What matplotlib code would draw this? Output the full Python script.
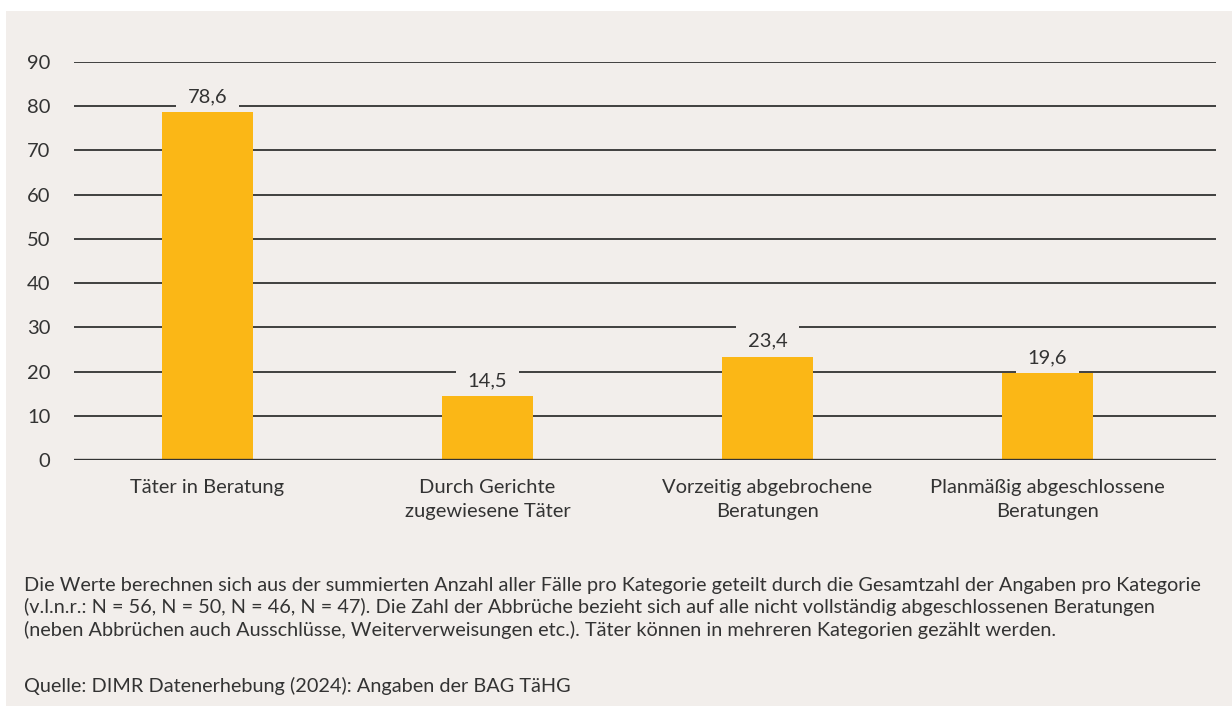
import matplotlib
matplotlib.use('Agg')
import matplotlib.pyplot as plt
from matplotlib.patches import Rectangle

categories = ['Täter in Beratung', 'Durch Gerichte\nzugewiesene Täter',
              'Vorzeitig abgebrochene\nBeratungen', 'Planmäßig abgeschlossene\nBeratungen']
values = [78.6, 14.5, 23.4, 19.6]
value_labels = ['78,6', '14,5', '23,4', '19,6']
yticks = [0, 10, 20, 30, 40, 50, 60, 70, 80, 90]

note = ('Die Werte berechnen sich aus der summierten Anzahl aller Fälle pro Kategorie geteilt durch die Gesamtzahl der Angaben pro Kategorie\n'
        '(v.l.n.r.: N = 56, N = 50, N = 46, N = 47). Die Zahl der Abbrüche bezieht sich auf alle nicht vollständig abgeschlossenen Beratungen\n'
        '(neben Abbrüchen auch Ausschlüsse, Weiterverweisungen etc.). Täter können in mehreren Kategorien gezählt werden.')
source = 'Quelle: DIMR Datenerhebung (2024): Angaben der BAG TäHG'

bg = '#f2eeeb'
bar_color = '#fbb716'
txt = '#333333'

plt.rcParams['font.family'] = ['Lato', 'DejaVu Sans']

W, H = 1232, 706
fig = plt.figure(figsize=(W / 100, H / 100), dpi=100, facecolor='white')
fig.patches.append(Rectangle((6 / W, 0), 1 - 6 / W, (H - 11) / H,
                             transform=fig.transFigure, facecolor=bg,
                             edgecolor='none', zorder=-1))

ax = fig.add_axes([74 / W, (H - 460) / H, (1216 - 74) / W, (460 - 62) / H])
ax.set_facecolor('none')

x = list(range(len(categories)))
ax.bar(x, values, width=0.325, color=bar_color, zorder=3)

for y in yticks[1:]:
    ax.axhline(y, color='#222222', lw=1.2, zorder=1)
ax.axhline(0, color='#333333', lw=2.4, zorder=4)

# value labels sit on a bg-coloured box so the gridline is interrupted
for xi, v, lab in zip(x, values, value_labels):
    ax.annotate(lab, (xi, v), xytext=(0, 11), textcoords='offset points',
                ha='center', va='center', fontsize=14.5, color=txt, zorder=2,
                bbox=dict(boxstyle='square', pad=0.6, facecolor=bg, edgecolor='none'))

ax.set_xlim(-0.477, 3.602)
ax.set_ylim(0, 90)
ax.set_yticks(yticks)
ax.set_xticks(x)
ax.set_xticklabels(categories, fontsize=14.5, color=txt, linespacing=1.45)
ax.tick_params(axis='y', length=0, pad=17, labelsize=14.5, labelcolor=txt)
ax.tick_params(axis='x', length=0, pad=14)
for s in ax.spines.values():
    s.set_visible(False)

fig.text(24 / W, 1 - 608 / H, note, fontsize=14.3, color=txt, va='center',
         ha='left', linespacing=1.32)
fig.text(24 / W, 1 - 686 / H, source, fontsize=14.3, color=txt, va='center', ha='left')

fig.savefig('out.png', dpi=100, facecolor='white')
